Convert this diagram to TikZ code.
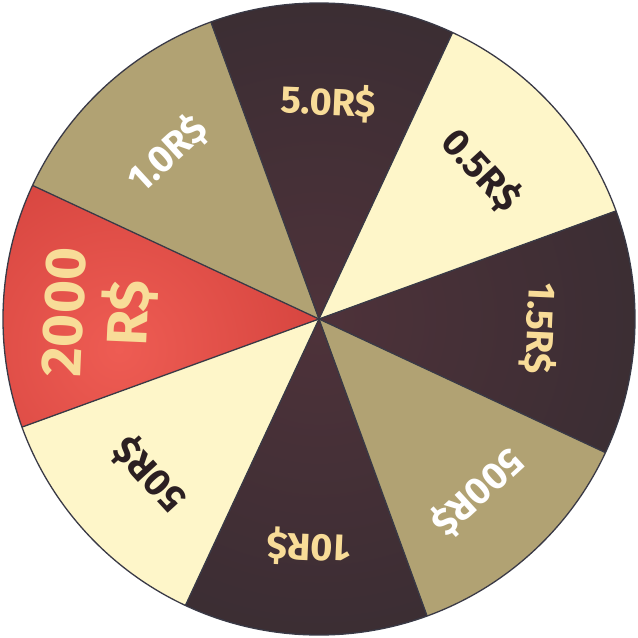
\documentclass[tikz,border=0pt]{standalone}
\usepackage{fontspec}
\setmainfont{Fira Sans}
\newfontfamily\lblfont{Fira Sans}
\definecolor{dk}{HTML}{2D2A2E}
\definecolor{dkin}{HTML}{4E323A}
\definecolor{ol}{HTML}{B1A273}
\definecolor{cr}{HTML}{FEF6C9}
\definecolor{rd}{HTML}{CB3A36}
\definecolor{rdhi}{HTML}{EE5C53}
\definecolor{tcr}{HTML}{F8DC98}
\definecolor{tdk}{HTML}{2B1F22}
\definecolor{edge}{HTML}{3A3A46}
\tikzset{
  lbl/.style={inner sep=0pt, font=\lblfont\bfseries\fontsize{38}{38}\selectfont},
  biglbl/.style={inner sep=0pt, font=\lblfont\bfseries\fontsize{57}{57}\selectfont},
  sep/.style={draw=edge, line width=1.3pt},
}
\newcommand{\wedgepath}[1]{(0,0) -- (#1:316) arc[start angle=#1, end angle=#1+45, radius=316] -- cycle}
\begin{document}
\begin{tikzpicture}[x=1pt,y=1pt]
\useasboundingbox (-319,-319) rectangle (319,319);
% flat wedges
\fill[cr] \wedgepath{20};
\fill[ol] \wedgepath{110};
\fill[cr] \wedgepath{200};
\fill[ol] \wedgepath{290};
% dark shaded wedges
\foreach \a in {65,245,335}{
  \begin{scope}
    \clip \wedgepath{\a};
    \fill[dk] (0,0) circle (316);
    \fill[inner color=dkin, outer color=dk] (0,0) circle (560);
  \end{scope}
}
% red wedge
\begin{scope}
  \clip \wedgepath{155};
  \fill[rd] (0,0) circle (316);
  \fill[inner color=rdhi, outer color=rd] (-200,-30) circle (300);
\end{scope}
% separators
\foreach \a in {20,65,...,335}{
  \draw[sep] (0,0) -- (\a:316);
}
\draw[sep] (0,0) circle (316);
% labels
\node[lbl, text=tdk, rotate=-47.5] (l05) at (42.5:220) {0.5R\$};
\node[lbl, text=tcr, rotate=-2.5] (l50a) at (87.5:217) {5.0R\$};
\node[lbl, text=white, rotate=42.5] (l10a) at (132.5:224) {1.0R\$};
\node[biglbl, text=tcr, rotate=87.5] (l2000) at (-255,7) {2000};
\node[biglbl, text=tcr, rotate=87.5] (l2000r) at (-190,6) {R\$};
\node[lbl, text=tdk, rotate=132.5] (l50) at (222.5:230) {50R\$};
\node[lbl, text=tcr, rotate=177.5] (l10) at (267.5:228) {10R\$};
\node[lbl, text=white, rotate=222.5] (l500) at (312.5:235) {500R\$};
\node[lbl, text=tcr, rotate=267.5] (l15) at (357.5:221) {1.5R\$};
\end{tikzpicture}
\end{document}
